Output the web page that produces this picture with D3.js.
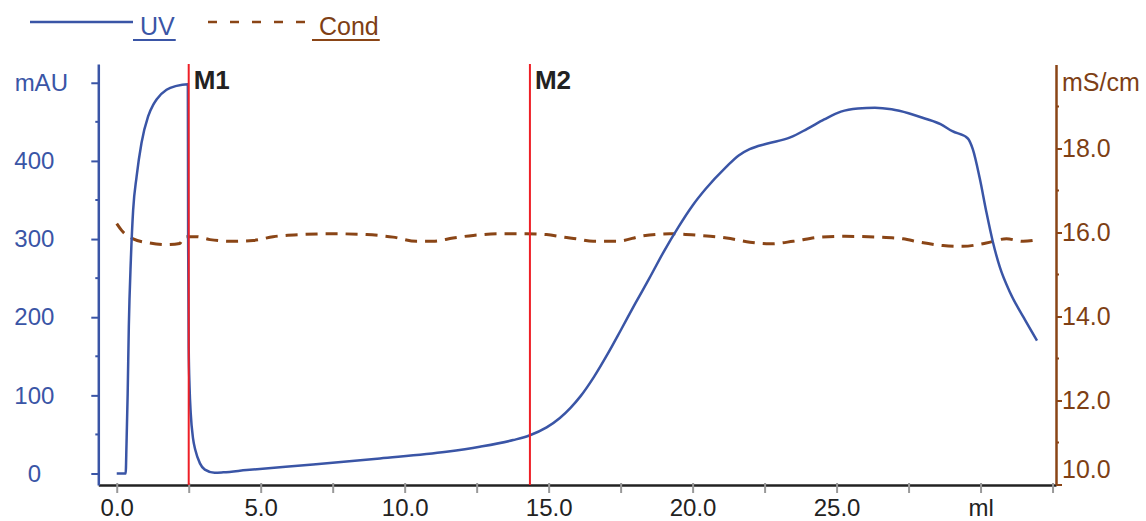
<!DOCTYPE html>
<html>
<head>
<meta charset="utf-8">
<script src="https://cdn.jsdelivr.net/npm/d3@7"></script>
<style>
  body { margin: 0; background: #fff; }
  svg { display: block; font-family: "Liberation Sans", Arial, sans-serif; }
</style>
</head>
<body>
<div id="chart"></div>
<script>
// UV trace (ml, mAU)
const uvMl = [0.0, 0.31, 0.34, 0.38, 0.42, 0.49, 0.57, 0.69, 0.86, 1.09, 1.27, 1.39, 1.73, 2.08, 2.47,
  2.48, 2.5, 2.53, 2.57, 2.65, 2.73, 2.89, 3.06, 3.4, 3.7, 4.51, 6.82, 9.14, 11.45, 12.61, 13.77, 14.35,
  14.93, 15.39, 15.76, 16.11, 16.58, 17.05, 17.5, 18.0, 18.5, 19.0, 19.5, 20.0, 20.45, 21.16, 21.6, 21.98, 22.57,
  23.39, 23.98, 24.57, 25.15, 25.74, 26.33, 26.91, 27.5, 28.09, 28.61, 29.02, 29.55, 29.73, 29.97, 30.2,
  30.43, 30.67, 31.02, 31.49, 31.96]
const uvMau = [0, 0, 38, 102, 188, 273, 337, 380, 423, 457, 472, 479, 491, 496, 498,
  300, 160, 110, 77, 45, 30, 13, 5, 1, 1.5, 4.4, 11.6, 19.3, 27.8, 34.2, 42.8, 49,
  59, 71, 84, 99, 124, 153, 183, 217, 250, 284, 315, 343, 364, 392, 407, 415, 422,
  430, 441, 453, 463, 467, 468, 466, 461, 454, 447, 438, 429, 415, 378, 335,
  296, 264, 232, 200, 170]

// conductivity trace (ml, mS/cm)
const condMl = [0, 0.17, 0.57, 1.15, 1.73, 2.19, 2.31, 2.45, 2.77, 3.24, 4.05, 4.74, 5.43, 6.36, 7.52, 8.68,
  9.6, 10.41, 10.99, 11.68, 12.38, 13.3, 14.23, 14.93, 15.5, 15.97, 16.55, 17.36, 18.28, 19.21, 20.25,
  21.18, 21.99, 22.68, 23.49, 24.42, 25.23, 26.39, 27.31, 27.89, 28.7, 29.39, 30.2, 30.9, 31.48, 32.0]
const condMs = [16.21, 16.05, 15.85, 15.75, 15.71, 15.74, 15.87, 15.9, 15.9, 15.83, 15.79, 15.81, 15.9, 15.95, 15.97, 15.95,
  15.89, 15.79, 15.79, 15.87, 15.93, 15.97, 15.97, 15.95, 15.89, 15.85, 15.79, 15.79, 15.92, 15.97, 15.93,
  15.87, 15.77, 15.73, 15.79, 15.89, 15.91, 15.89, 15.85, 15.77, 15.69, 15.67, 15.75, 15.85, 15.79, 15.83]

const markerNames = ['M1', 'M2']
const markerMl = [2.5, 14.35]

const xTicks = [0, 2.5, 5, 7.5, 10, 12.5, 15, 17.5, 20, 22.5, 25, 27.5, 30, 32.5]
const xLabels = ['0.0', '', '5.0', '', '10.0', '', '15.0', '', '20.0', '', '25.0', '', 'ml', '']
const uvTicks = [0, 100, 200, 300, 400, 500]
const uvLabels = ['0', '100', '200', '300', '400', 'mAU']
const uvMinor = [50, 150, 250, 350, 450]
const condTicks = [10, 12, 14, 16, 18]
const condLabels = ['10.0', '12.0', '14.0', '16.0', '18.0']
const condMinor = [11, 13, 15, 17, 19]
const condUnit = 'mS/cm'

const blue = '#3a55a6'
const brown = '#8a4516'
const brownText = '#7e3f15'
const red = '#ee1f26'

const width = 1146, height = 521

const svg = d3.select('#chart').append('svg')
  .attr('width', width)
  .attr('height', height)

const x = d3.scaleLinear().domain([-0.64, 32.62]).range([98.3, 1056])
const yUv = d3.scaleLinear().domain([-14.7, 524]).range([485, 64])
const yCond = d3.scaleLinear().domain([10, 20]).range([484.5, 64.5])

// x axis
const xAxis = d3.axisBottom(x).tickValues(xTicks).tickFormat((d, i) => xLabels[i]).tickSize(8).tickSizeOuter(0)
const gx = svg.append('g').attr('transform', `translate(0, ${yUv.range()[0]})`).call(xAxis)
gx.select('.domain').attr('stroke', '#222').attr('stroke-width', 2.5)
gx.selectAll('.tick line').attr('stroke', '#999').attr('stroke-width', 2).attr('y1', -2)
gx.selectAll('.tick text').attr('y', 14).attr('font-size', 24).attr('fill', '#222')

// left axis (UV)
const gl = svg.append('g').attr('transform', `translate(${x.range()[0]}, 0)`)
  .call(d3.axisLeft(yUv).tickValues(uvTicks).tickFormat((d, i) => uvLabels[i]).tickSize(7).tickSizeOuter(0))
gl.select('.domain').attr('stroke', blue).attr('stroke-width', 2.5)
gl.selectAll('.tick line').attr('stroke', blue).attr('stroke-width', 2)
gl.selectAll('.tick text').attr('font-size', 24).attr('fill', blue)
  .attr('text-anchor', 'middle').attr('x', (d, i) => i === uvTicks.length - 1 ? -57 : -64)
gl.append('g').selectAll('line').data(uvMinor).join('line')
  .attr('x1', -3).attr('x2', 0).attr('y1', d => yUv(d)).attr('y2', d => yUv(d))
  .attr('stroke', blue).attr('stroke-width', 2)

// right axis (conductivity)
const gr = svg.append('g').attr('transform', `translate(${x.range()[1]}, 0)`)
  .call(d3.axisRight(yCond).tickValues(condTicks).tickFormat((d, i) => condLabels[i]).tickSize(6).tickSizeOuter(0))
gr.select('.domain').attr('stroke', brown).attr('stroke-width', 2.5)
gr.selectAll('.tick line').attr('stroke', brown).attr('stroke-width', 2)
gr.selectAll('.tick text').attr('font-size', 25).attr('fill', brownText).attr('x', 6)
  .attr('dy', (d, i) => i === 0 ? '-0.3em' : '0.32em')
gr.append('g').selectAll('line').data(condMinor).join('line')
  .attr('x1', 0).attr('x2', 3).attr('y1', d => yCond(d)).attr('y2', d => yCond(d))
  .attr('stroke', brown).attr('stroke-width', 2)
gr.append('text').attr('x', 6).attr('y', yUv(500)).attr('dy', '0.32em')
  .attr('font-size', 25).attr('fill', brownText).text(condUnit)

// traces
const uvData = uvMl.map((m, i) => ({ ml: m, v: uvMau[i] }))
const condData = condMl.map((m, i) => ({ ml: m, v: condMs[i] }))

svg.append('path').datum(condData)
  .attr('fill', 'none').attr('stroke', brown).attr('stroke-width', 3)
  .attr('stroke-dasharray', '12,8')
  .attr('d', d3.line().x(d => x(d.ml)).y(d => yCond(d.v)).curve(d3.curveMonotoneX))

svg.append('path').datum(uvData)
  .attr('fill', 'none').attr('stroke', blue).attr('stroke-width', 2.5)
  .attr('d', d3.line().x(d => x(d.ml)).y(d => yUv(d.v)).curve(d3.curveMonotoneX))

// markers
const mk = svg.append('g').selectAll('g').data(markerMl).join('g')
mk.append('line')
  .attr('x1', d => x(d)).attr('x2', d => x(d))
  .attr('y1', yUv.range()[1]).attr('y2', yUv.range()[0])
  .attr('stroke', red).attr('stroke-width', 2)
mk.append('text')
  .attr('x', d => x(d) + 5).attr('y', 89)
  .attr('font-size', 26).attr('font-weight', 'bold').attr('fill', '#222')
  .text((d, i) => markerNames[i])

// legend
const legend = svg.append('g')
const items = [
  { name: 'UV', color: blue, dash: null, x0: 30, x1: 133 },
  { name: 'Cond', color: brown, dash: '9,13', x0: 208, x1: 312 }
]
items.forEach(it => {
  legend.append('line').attr('x1', it.x0).attr('x2', it.x1).attr('y1', 22).attr('y2', 22)
    .attr('stroke', it.color).attr('stroke-width', 2.5).attr('stroke-dasharray', it.dash)
  const t = legend.append('text').attr('x', it.x1 + 7).attr('y', 35)
    .attr('font-size', 25).attr('fill', it.color === brown ? brownText : it.color).text(it.name)
  const w = t.node().getComputedTextLength()
  legend.append('line').attr('x1', it.x1).attr('x2', it.x1 + 8 + w).attr('y1', 40).attr('y2', 40)
    .attr('stroke', it.color).attr('stroke-width', 2)
})
</script>
</body>
</html>
